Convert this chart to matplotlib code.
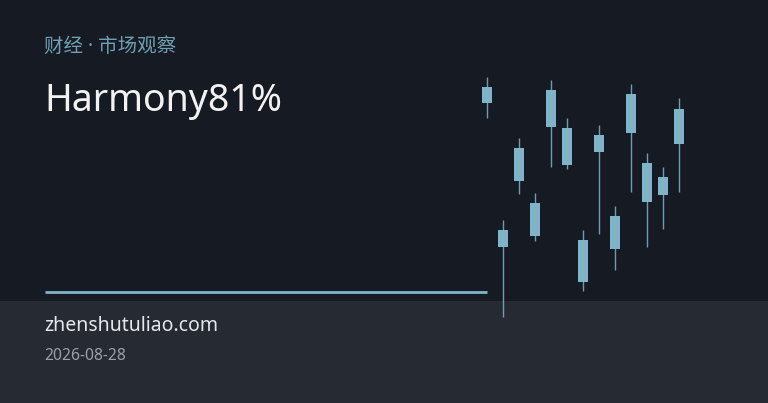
"""Cover card with a small candlestick strip."""

import matplotlib

matplotlib.use("agg")
import matplotlib.pyplot as plt
from matplotlib.patches import Rectangle

plt.rcParams["font.family"] = ["Noto Sans", "Noto Sans CJK SC", "DejaVu Sans"]

# candle data (price units)
highs = [326.3, 183.0, 264.7, 209.7, 323.0, 284.7, 173.0, 278.0, 197.0, 319.0, 249.7, 235.7, 304.7]
lows = [284.7, 86.3, 209.0, 162.0, 236.3, 233.7, 112.3, 169.0, 133.0, 211.3, 156.3, 174.0, 210.7]
opens = [300.3, 156.3, 222.3, 167.3, 275.7, 238.0, 121.0, 251.3, 154.3, 269.7, 201.0, 208.0, 258.7]
closes = [315.7, 173.0, 254.7, 200.3, 313.0, 274.7, 163.0, 267.7, 187.0, 309.0, 239.7, 226.0, 294.3]

kicker = "财经 · 市场观察"
title = "Harmony81%"
site = "zhenshutuliao.com"
date_str = "2026-08-28"

W, H = 768, 403
BG_TOP = "#161b23"
BG_BOT = "#262a33"
ACCENT = "#7fb3c8"

fig = plt.figure(figsize=(W / 100, H / 100), dpi=100)
fig.patch.set_facecolor(BG_TOP)

# background layer in pixel coords
bg = fig.add_axes([0, 0, 1, 1])
bg.set_xlim(0, W)
bg.set_ylim(H, 0)
bg.axis("off")
bg.add_patch(Rectangle((0, 301), W, H - 301, color=BG_BOT, lw=0))
bg.plot([45, 487], [292, 292], color=ACCENT, lw=2.0, solid_capstyle="butt")

# candlesticks
n = len(highs)
ax_left, ax_right = 478.7, 686.7
ax_top, ax_bot = 70, 320
cax = fig.add_axes(
    [ax_left / W, 1 - ax_bot / H, (ax_right - ax_left) / W, (ax_bot - ax_top) / H]
)
cax.set_xlim(-0.5, n - 0.5)
cax.set_ylim(H - ax_bot, H - ax_top)
cax.axis("off")
cax.patch.set_alpha(0)

for idx in range(n):
    cax.vlines(idx, lows[idx], highs[idx], color=ACCENT, lw=1.0, alpha=0.85)
    lo = min(opens[idx], closes[idx])
    hi = max(opens[idx], closes[idx])
    cax.add_patch(
        Rectangle((idx - 0.31, lo), 0.62, hi - lo, facecolor=ACCENT, edgecolor="none")
    )

# texts
fig.text(44 / W, 1 - 47 / H, kicker, fontsize=14, color="#6f9fb3",
         va="center", ha="left")
fig.text(44 / W, 1 - 101 / H, title, fontsize=27, color="#f2f2f2",
         va="center", ha="left")
fig.text(44 / W, 1 - 326 / H, site, fontsize=14, color="#e4e6ea",
         va="center", ha="left")
fig.text(44 / W, 1 - 356 / H, date_str, fontsize=11.3, color="#9a9fa8",
         va="center", ha="left")

plt.savefig("out.png", dpi=100, facecolor=fig.get_facecolor())
plt.close(fig)
